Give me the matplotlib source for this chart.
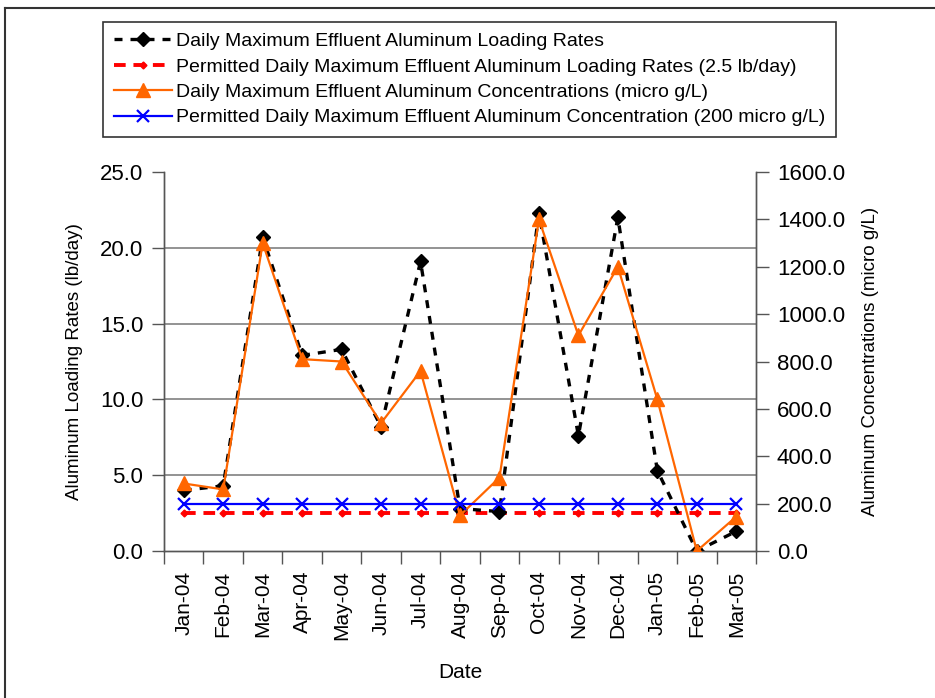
import matplotlib

matplotlib.use("Agg")
import matplotlib.pyplot as plt
import numpy as np
from matplotlib.lines import Line2D

months = ["Jan-04", "Feb-04", "Mar-04", "Apr-04", "May-04", "Jun-04", "Jul-04",
          "Aug-04", "Sep-04", "Oct-04", "Nov-04", "Dec-04", "Jan-05", "Feb-05",
          "Mar-05"]
loading_rate = [4.0, 4.3, 20.7, 12.9, 13.3, 8.2, 19.1, 2.8, 2.6, 22.3, 7.6,
                22.0, 5.3, 0.0, 1.3]
permitted_rate = [2.5] * 15
concentration = [285, 260, 1300, 810, 800, 540, 760, 150, 310, 1400, 910,
                 1200, 640, 0, 145]
permitted_conc = [200] * 15

left_ticks = [0, 5, 10, 15, 20, 25]
right_ticks = [0, 200, 400, 600, 800, 1000, 1200, 1400, 1600]

plt.rcParams["font.family"] = ["Liberation Sans", "DejaVu Sans"]

fig = plt.figure(figsize=(9.35, 6.98), dpi=100)
ax = fig.add_axes([164 / 935, 1 - 551 / 698, 592 / 935, 379 / 698])
ax2 = ax.twinx()

x = np.arange(len(months))
spine_col = "#555555"
grid_col = "#808080"

styles = [
    dict(color="black", lw=2.4, ls=(0, (2.4, 2.4)), marker="D", ms=7.5),
    dict(color="red", lw=2.8, ls=(0, (3, 2)), marker="D", ms=3.5),
    dict(color="#FF6600", lw=1.6, marker="^", ms=10),
    dict(color="#0000FF", lw=1.6, marker="x", ms=9, mew=1.6),
]

# left axis: loading rates
ax.plot(x, loading_rate, zorder=3, **styles[0])
ax.plot(x, permitted_rate, zorder=2, **styles[1])

# right axis: concentrations
ax2.plot(x, concentration, zorder=3, **styles[2])
ax2.plot(x, permitted_conc, zorder=4, **styles[3])

ax.set_xlim(-0.5, len(months) - 0.5)
ax.set_ylim(0, 25)
ax2.set_ylim(0, 1600)
ax.set_yticks(left_ticks)
ax.set_yticklabels([f"{v:.1f}" for v in left_ticks])
ax2.set_yticks(right_ticks)
ax2.set_yticklabels([f"{v:.1f}" for v in right_ticks])

ax.set_xticks(x)
ax.set_xticklabels(months, rotation=90, fontsize=15)
ax.set_xticks(np.arange(-0.5, len(months)), minor=True)
ax.tick_params(axis="x", which="major", length=0, pad=14)
ax.tick_params(axis="x", which="minor", length=9, width=1, color=spine_col)
ax.tick_params(axis="y", length=9, width=1, color=spine_col, labelsize=16, pad=6)
ax2.tick_params(axis="y", length=9, width=1, color=spine_col, labelsize=16, pad=6)

for gy in left_ticks[1:-1]:
    ax.axhline(gy, color=grid_col, lw=1.2, zorder=0)

for a in (ax, ax2):
    a.spines["top"].set_visible(False)
    for side in ("left", "right", "bottom"):
        a.spines[side].set_color(spine_col)
        a.spines[side].set_linewidth(1.0)

ax.set_ylabel("Aluminum Loading Rates (lb/day)", fontsize=13.5, labelpad=12)
ax2.set_ylabel("Aluminum Concentrations (micro g/L)", fontsize=13.5, labelpad=12)
ax.set_xlabel("Date", fontsize=15, labelpad=16)

handles = [Line2D([], [], **s) for s in styles]
labels = [
    "Daily Maximum Effluent Aluminum Loading Rates",
    "Permitted Daily Maximum Effluent Aluminum Loading Rates (2.5 lb/day)",
    "Daily Maximum Effluent Aluminum Concentrations (micro g/L)",
    "Permitted Daily Maximum Effluent Aluminum Concentration (200 micro g/L)",
]
leg = fig.legend(handles, labels, loc="upper left",
                 bbox_to_anchor=(103 / 935, 1 - 22 / 698), borderaxespad=0,
                 fontsize=14, handlelength=3.0, handletextpad=0.2,
                 labelspacing=0.4, borderpad=0.55, fancybox=False,
                 framealpha=1, edgecolor="#333333")
leg.get_frame().set_linewidth(1.2)

# outer chart border (left and top edges visible)
fig.add_artist(Line2D([5 / 935, 5 / 935], [0, 1 - 8 / 698], color="#333333",
                      lw=1.5, transform=fig.transFigure))
fig.add_artist(Line2D([5 / 935, 1], [1 - 8 / 698, 1 - 8 / 698], color="#333333",
                      lw=1.5, transform=fig.transFigure))

fig.savefig("out.png", dpi=100)
